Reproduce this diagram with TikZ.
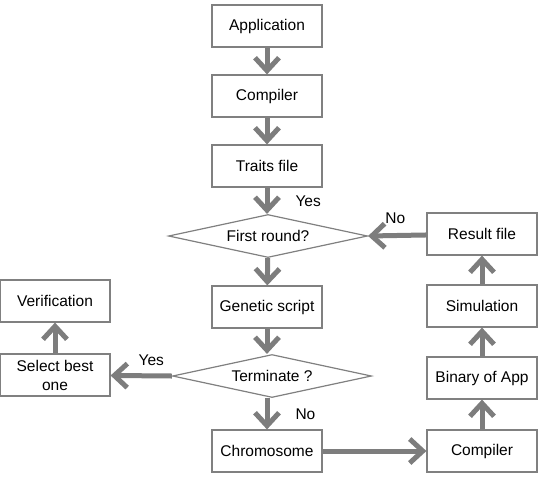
\documentclass[tikz,border=0pt]{standalone}
\usepackage{fontspec}
\setmainfont{Liberation Sans}
\usetikzlibrary{shapes.geometric,arrows.meta}
\definecolor{boxgray}{RGB}{128,128,128}
\definecolor{flowgray}{RGB}{125,125,125}

\begin{document}
\begin{tikzpicture}[x=1pt,y=-1pt]
                \tikzstyle{block}=[rectangle, draw=boxgray, fill=white, line width=1.2pt, minimum width=110pt, minimum height=42pt, inner sep=2pt, align=center, font=\fontsize{15.5}{19}\selectfont]
                \tikzstyle{decision}=[diamond, aspect=4.5, draw=boxgray, fill=white, line width=1.2pt, minimum width=199pt, minimum height=43pt, inner sep=0pt, font=\fontsize{15.5}{19}\selectfont]
                \tikzstyle{flow} = [draw=flowgray, line width=5pt, -{Straight Barb[length=13pt,width=24pt]}]
                \tikzstyle{answer}=[inner sep=0pt, font=\fontsize{15.5}{19}\selectfont]

                \useasboundingbox (0,0) rectangle (540,480);

                \node[block] (app) at (267,26) {Application};
                \node[block] (comp) at (267,96) {Compiler};
                \node[block] (traits) at (267,166) {Traits file};
                \node[decision] (first) at (268,236) {First round?};
                \node[block] (genetic) at (267,307) {Genetic script};
                \node[decision] (term) at (272,376) {Terminate ?};
                \node[block] (chrom) at (267,451) {Chromosome};
                \node[block] (select) at (55,375) {Select best\\one};
                \node[block] (verif) at (55,301) {Verification};
                \node[block] (comp2) at (482,451) {Compiler};
                \node[block] (binary) at (482,378) {Binary of App};
                \node[block] (sim) at (482,306) {Simulation};
                \node[block] (result) at (482,234) {Result file};

                \foreach \source/ \dest in {app/comp, comp/traits, first/genetic, select/verif, comp2/binary, binary/sim, sim/result}
                \path[flow] (\source) -- (\dest);

                \path[flow] (genetic) -- (genetic |- term.north);
                \path[flow] (traits) -- node[answer, anchor=west, xshift=26pt] {Yes} (traits |- first.north);
                \path[flow] (term.south -| chrom) -- node[answer, anchor=west, xshift=26pt] {No} (chrom);
                \path[flow] (term.west) -- node[answer, above=8pt, xshift=10pt] {Yes} (select);
                \path[flow] (chrom) -- (comp2);
                \path[flow] (result) -- node[answer, above=9pt, xshift=-2pt] {No} (first.east);
            \end{tikzpicture}
\end{document}
